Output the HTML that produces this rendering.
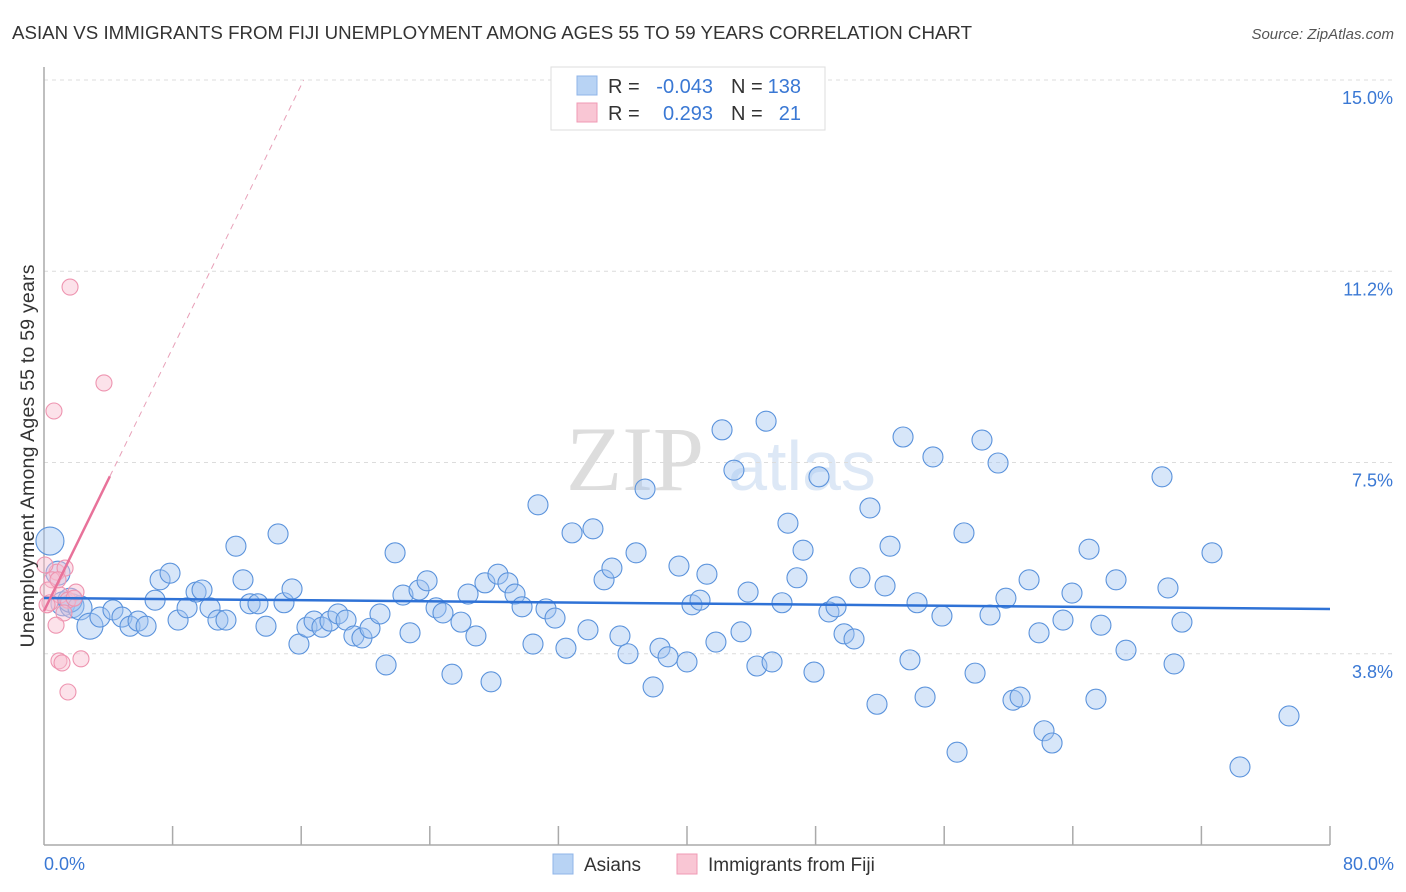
<!DOCTYPE html>
<html><head><meta charset="utf-8"><style>
body{margin:0;background:#fff;font-family:"Liberation Sans",sans-serif;}
#wrap{position:relative;width:1406px;height:892px;overflow:hidden;}
</style></head><body>
<div id="wrap">
<svg id="chart" width="1406" height="892" xmlns="http://www.w3.org/2000/svg">
<text x="12" y="39" font-size="18.5" fill="#333" textLength="960" lengthAdjust="spacingAndGlyphs">ASIAN VS IMMIGRANTS FROM FIJI UNEMPLOYMENT AMONG AGES 55 TO 59 YEARS CORRELATION CHART</text>
<text x="1394" y="39" font-size="15" fill="#555" text-anchor="end" font-style="italic">Source: ZipAtlas.com</text>
<text x="635" y="490" font-size="92" fill="#ddd" font-family="Liberation Serif, serif" text-anchor="middle">ZIP</text>
<text x="802" y="490" font-size="70" fill="#dde8f6" text-anchor="middle">atlas</text>
<g id="grid"></g><g id="axes"></g><g id="trend"></g><g id="pts"></g>
<text transform="translate(34,456) rotate(-90)" font-size="19.5" fill="#333" text-anchor="middle" textLength="383">Unemployment Among Ages 55 to 59 years</text>
<g>
<rect x="551" y="67" width="274" height="63" fill="#fff" stroke="#ddd"/>
<rect x="577" y="76" width="20" height="19" fill="#b8d3f4" stroke="#8fb5e8"/>
<rect x="577" y="103" width="20" height="19" fill="#f9c6d4" stroke="#f09ab4"/>
<text x="608" y="93" font-size="20" fill="#333">R = </text><text x="713" y="93" font-size="20" fill="#3a78d4" text-anchor="end">-0.043</text>
<text x="731" y="93" font-size="20" fill="#333">N = </text><text x="801" y="93" font-size="20" fill="#3a78d4" text-anchor="end">138</text>
<text x="608" y="120" font-size="20" fill="#333">R = </text><text x="713" y="120" font-size="20" fill="#3a78d4" text-anchor="end">0.293</text>
<text x="731" y="120" font-size="20" fill="#333">N = </text><text x="801" y="120" font-size="20" fill="#3a78d4" text-anchor="end">21</text>
</g>
<g>
<rect x="553" y="854" width="20" height="20" fill="#b8d3f4" stroke="#8fb5e8"/>
<text x="584" y="871" font-size="19" fill="#333">Asians</text>
<rect x="677" y="854" width="20" height="20" fill="#f9c6d4" stroke="#f09ab4"/>
<text x="708" y="871" font-size="19" fill="#333">Immigrants from Fiji</text>
</g>
</svg></div>
<script>
const asianX=[0.37,0.87,1.18,1.74,1.62,2.24,2.86,3.48,4.29,4.85,5.35,5.85,6.35,6.91,7.22,7.84,8.34,8.90,9.46,9.83,10.33,10.82,11.32,11.94,12.38,12.82,13.31,13.81,14.56,14.93,15.43,15.86,16.36,16.80,17.29,17.79,18.29,18.79,19.28,19.78,20.28,20.90,21.28,21.84,22.33,22.77,23.33,23.83,24.39,24.82,25.38,25.94,26.38,26.87,27.43,27.81,28.24,28.86,29.30,29.74,30.42,30.73,31.23,31.79,32.47,32.85,33.84,34.15,34.84,35.33,35.83,36.33,36.83,37.39,37.89,38.32,38.82,39.50,40.00,40.31,40.81,41.24,41.80,42.18,42.92,43.36,43.80,44.35,44.92,45.29,45.91,46.28,46.84,47.22,47.90,48.21,48.83,49.27,49.77,50.39,50.76,51.38,51.82,52.32,52.63,53.44,53.87,54.31,54.81,55.30,55.86,56.80,57.23,57.92,58.35,58.85,59.35,59.84,60.28,60.72,61.28,61.90,62.21,62.71,63.39,63.95,65.01,65.44,65.75,66.69,67.31,69.55,69.92,70.30,70.79,72.66,74.40,77.45];
const asianY=[5.96,5.33,4.73,4.69,4.80,4.65,4.29,4.47,4.61,4.47,4.29,4.39,4.29,4.80,5.20,5.33,4.41,4.65,4.96,5.00,4.65,4.41,4.41,5.86,5.20,4.73,4.73,4.29,6.10,4.75,5.02,3.94,4.27,4.39,4.27,4.39,4.53,4.41,4.10,4.06,4.25,4.53,3.53,5.73,4.90,4.16,5.00,5.18,4.65,4.55,3.35,4.37,4.92,4.10,5.14,3.20,5.31,5.14,4.92,4.67,3.94,6.67,4.63,4.45,3.86,6.12,4.22,6.20,5.20,5.43,4.10,3.75,5.73,6.98,3.10,3.86,3.69,5.47,3.59,4.71,4.80,5.31,3.98,8.14,7.35,4.18,4.96,3.51,8.31,3.59,4.75,6.31,5.24,5.78,3.39,7.22,4.57,4.67,4.14,4.04,5.24,6.61,2.76,5.08,5.86,8.00,3.63,4.75,2.90,7.61,4.49,1.82,6.12,3.37,7.94,4.51,7.49,4.84,2.84,2.90,5.20,4.16,2.24,2.00,4.41,4.94,5.80,2.86,4.31,5.20,3.82,7.22,5.04,3.55,4.37,5.73,1.53,2.53];
const fijiX=[1.62,3.73,0.62,0.81,0.50,1.31,0.25,1.00,1.49,1.99,0.37,1.24,0.75,0.93,1.12,2.30,1.49,1.87,0.06,0.87,0.19];
const fijiY=[10.94,9.06,8.51,5.35,5.20,5.43,5.00,4.90,4.80,4.96,4.75,4.55,4.31,3.61,3.57,3.65,3.00,4.84,5.49,5.20,4.71];
const yTicks=[3.75,7.5,11.25,15];
const yTickLabels=["3.8%","7.5%","11.2%","15.0%"];
const xTicks=[8,16,24,32,40,48,56,64,72,80];
const asianTrend=[4.843,4.627];
const fijiTrend=[4.588,0.6445];
const NS="http://www.w3.org/2000/svg";
const sx=v=>44+v*16.075, sy=v=>80+(15-v)*51.0;
function mk(tag,attrs,parent){const e=document.createElementNS(NS,tag);for(const k in attrs)e.setAttribute(k,attrs[k]);parent.appendChild(e);return e;}
const grid=document.getElementById('grid'),axes=document.getElementById('axes'),trend=document.getElementById('trend'),pts=document.getElementById('pts');
yTicks.forEach((t,i)=>{
 const l=mk('line',{x1:44,x2:1394,y1:sy(t),y2:sy(t),stroke:'#dcdcdc','stroke-dasharray':'4,4'},grid);
 
 
 const tx=mk('text',{x:1393,y:sy(t)+24,'font-size':18,fill:'#3a78d4','text-anchor':'end'},grid);
 tx.textContent=yTickLabels[i];
 
 
});
const ya=mk('line',{x1:44,x2:44,y1:67,y2:845,stroke:'#aaa','stroke-width':1.5},axes);


const xa=mk('line',{x1:44,x2:1330,y1:845,y2:845,stroke:'#aaa','stroke-width':1.5},axes);


xTicks.forEach(t=>{
 const l=mk('line',{x1:sx(t),x2:sx(t),y1:826,y2:845,stroke:'#aaa','stroke-width':1.5},axes);
 
 
});
const x0=mk('text',{x:44,y:870,'font-size':18,fill:'#3a78d4'},axes);x0.textContent='0.0%';


const x1=mk('text',{x:1394,y:870,'font-size':18,fill:'#3a78d4','text-anchor':'end'},axes);x1.textContent='80.0%';


asianX.forEach((x,i)=>{
 const r=i===0?14:(i===6?13:(i<6?12:10));
 const c=mk('circle',{cx:sx(x),cy:sy(asianY[i]),r:r,fill:'rgba(160,196,240,0.42)',stroke:'#5b93dc','stroke-width':1.1},pts);
 
 
});
fijiX.forEach((x,i)=>{
 const c=mk('circle',{cx:sx(x),cy:sy(fijiY[i]),r:8,fill:'rgba(248,190,208,0.45)',stroke:'#ee94b0','stroke-width':1.1},pts);
 
 
});
const bt=mk('line',{x1:sx(0),y1:sy(asianTrend[0]),x2:sx(80),y2:sy(asianTrend[1]),stroke:'#2f72d6','stroke-width':2.5},pts);


const fy=x=>fijiTrend[0]+fijiTrend[1]*x;
const pt=mk('line',{x1:sx(0),y1:sy(fy(0)),x2:sx(4.1),y2:sy(fy(4.1)),stroke:'#e8729a','stroke-width':2.5},pts);


const pd=mk('line',{x1:sx(4.1),y1:sy(fy(4.1)),x2:sx(16.15),y2:sy(fy(16.15)),stroke:'#e8a0b8','stroke-width':1,'stroke-dasharray':'6,5'},pts);


</script>
</body></html>
